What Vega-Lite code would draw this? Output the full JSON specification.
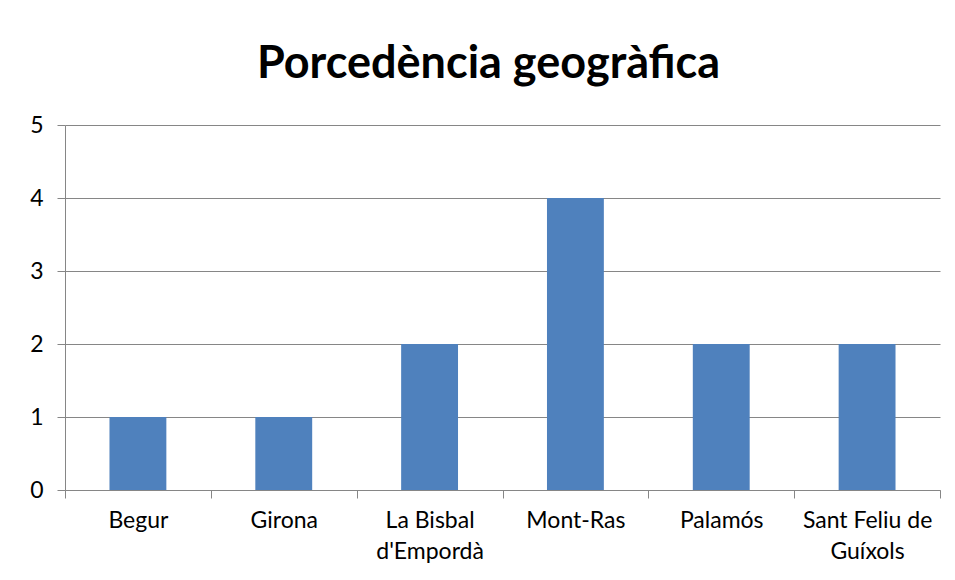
{
  "$schema": "https://vega.github.io/schema/vega-lite/v6.json",
  "width": 875,
  "height": 365,
  "autosize": {"type": "none"},
  "padding": {"left": 65, "top": 125, "right": 15, "bottom": 90},
  "background": "white",
  "title": {
    "text": "Porcedència geogràfica",
    "font": "Lato",
    "fontSize": 45,
    "fontWeight": "bold",
    "color": "#000000",
    "anchor": "middle",
    "dx": -14,
    "baseline": "alphabetic",
    "offset": -9
  },
  "data": {
    "values": [
      {"lloc": "Begur", "n": 1},
      {"lloc": "Girona", "n": 1},
      {"lloc": "La Bisbal d'Empordà", "n": 2},
      {"lloc": "Mont-Ras", "n": 4},
      {"lloc": "Palamós", "n": 2},
      {"lloc": "Sant Feliu de Guíxols", "n": 2}
    ]
  },
  "mark": {"type": "bar", "color": "#4F81BD", "width": {"band": 0.39}},
  "encoding": {
    "x": {
      "field": "lloc",
      "type": "nominal",
      "sort": null,
      "title": null,
      "scale": {"paddingInner": 0, "paddingOuter": 0},
      "axis": {
        "labelAngle": 0,
        "tickBand": "extent",
        "labelFont": "Lato",
        "labelFontSize": 23,
        "labelColor": "#000000",
        "labelPadding": 11,
        "labelLineHeight": 31,
        "labelLimit": 200,
        "labelExpr": "datum.label == \"La Bisbal d'Empordà\" ? ['La Bisbal', \"d'Empordà\"] : datum.label == 'Sant Feliu de Guíxols' ? ['Sant Feliu de', 'Guíxols'] : datum.label",
        "domainColor": "#868686",
        "tickColor": "#868686",
        "tickSize": 8,
        "grid": false
      }
    },
    "y": {
      "field": "n",
      "type": "quantitative",
      "title": null,
      "scale": {"domain": [0, 5], "nice": false},
      "axis": {
        "values": [0, 1, 2, 3, 4, 5],
        "labelFont": "Lato",
        "labelFontSize": 23,
        "labelColor": "#000000",
        "labelPadding": 14,
        "domainColor": "#868686",
        "tickColor": "#868686",
        "tickSize": 8,
        "gridColor": "#868686",
        "gridOpacity": 1
      }
    }
  },
  "config": {"view": {"stroke": null}}
}
